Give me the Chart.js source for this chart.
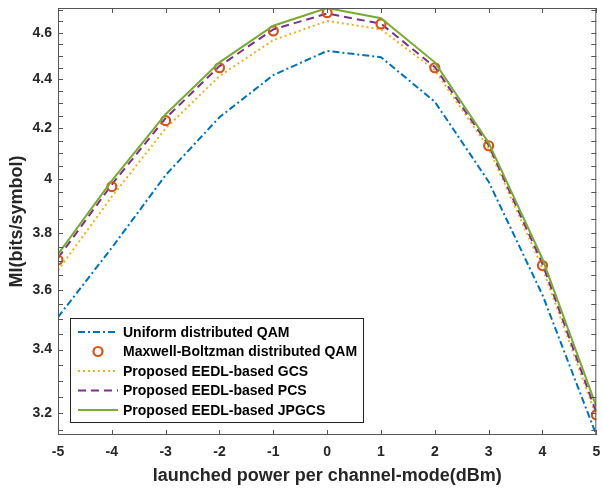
<!DOCTYPE html>
<html>
<head>
<meta charset="utf-8">
<script src="https://cdn.jsdelivr.net/npm/chart.js@4.4.0/dist/chart.umd.min.js"></script>
<style>
  html, body { margin: 0; padding: 0; background: #fff; }
  #wrap { width: 603px; height: 488px; }
</style>
</head>
<body>
<div id="wrap"><canvas id="miChart" width="603" height="488"></canvas></div>
<script>
// values
let powerArr = [-5, -4, -3, -2, -1, 0, 1, 2, 3, 4, 5];
let uniformArr = [3.507, 3.747, 4.016, 4.244, 4.418, 4.521, 4.494, 4.307, 3.991, 3.582, 3.134];
let mbArr = [3.704, 3.972, 4.230, 4.449, 4.608, 4.689, 4.639, 4.449, 4.130, 3.684, 3.195];
let gcsArr = [3.667, 3.934, 4.199, 4.414, 4.568, 4.652, 4.615, 4.439, 4.120, 3.675, 3.190];
let pcsArr = [3.710, 3.980, 4.240, 4.456, 4.615, 4.685, 4.640, 4.452, 4.132, 3.690, 3.202];
let jpgcsArr = [3.724, 3.995, 4.256, 4.472, 4.631, 4.710, 4.664, 4.472, 4.142, 3.707, 3.221];

let xTickArr = [-5, -4, -3, -2, -1, 0, 1, 2, 3, 4, 5];
let yTickArr = [3.2, 3.4, 3.6, 3.8, 4.0, 4.2, 4.4, 4.6];
let yMinorStep = 0.05;

const AXIS_COLOR = '#262626';
const FONT = '"Liberation Sans", Arial, Helvetica, sans-serif';

const toPts = arr => arr.map((v, i) => ({ x: powerArr[i], y: v }));

const lineData = {
  datasets: [{
    label: 'Uniform distributed QAM',
    data: toPts(uniformArr),
    borderColor: '#0072BD',
    borderWidth: 2,
    borderDash: [7, 3, 2, 3],
    pointRadius: 0,
    order: 4
  },
  {
    label: 'Maxwell-Boltzman distributed QAM',
    data: toPts(mbArr),
    borderColor: '#D95319',
    showLine: false,
    pointStyle: 'circle',
    pointRadius: 4.5,
    pointBorderWidth: 2.2,
    pointBackgroundColor: 'rgba(0,0,0,0)',
    pointBorderColor: '#D95319',
    order: 1
  },
  {
    label: 'Proposed EEDL-based GCS',
    data: toPts(gcsArr),
    borderColor: '#EDB120',
    borderWidth: 2,
    borderDash: [2, 3],
    pointRadius: 0,
    order: 3
  },
  {
    label: 'Proposed EEDL-based PCS',
    data: toPts(pcsArr),
    borderColor: '#7E2F8E',
    borderWidth: 2,
    borderDash: [8, 5],
    pointRadius: 0,
    order: 2
  },
  {
    label: 'Proposed EEDL-based JPGCS',
    data: toPts(jpgcsArr),
    borderColor: '#77AC30',
    borderWidth: 2,
    pointRadius: 0,
    order: 0
  }]
};

// matlab style box: inward ticks on all four sides + legend inside the axes
const matlabBox = {
  id: 'matlabBox',
  afterDraw(chart) {
    const ctx = chart.ctx;
    const a = chart.chartArea;
    const xs = chart.scales.x, ys = chart.scales.y;
    const len = 5;
    ctx.save();
    ctx.strokeStyle = '#555';
    ctx.lineWidth = 1;
    ctx.strokeRect(a.left + 0.5, a.top + 0.5, a.right - a.left - 1, a.bottom - a.top - 1);
    ctx.beginPath();
    xTickArr.forEach(v => {
      const px = Math.round(xs.getPixelForValue(v)) + 0.5;
      ctx.moveTo(px, a.bottom); ctx.lineTo(px, a.bottom - len);
      ctx.moveTo(px, a.top); ctx.lineTo(px, a.top + len);
    });
    for (let v = 3.15; v <= 4.7001; v += yMinorStep) {
      const py = Math.round(ys.getPixelForValue(v)) + 0.5;
      if (py < a.top || py > a.bottom) continue;
      ctx.moveTo(a.left, py); ctx.lineTo(a.left + len, py);
      ctx.moveTo(a.right, py); ctx.lineTo(a.right - len, py);
    }
    ctx.stroke();

    // legend
    const rowH = 19.5;
    const sets = chart.data.datasets;
    ctx.font = 'bold 14px ' + FONT;
    let tw = 0;
    sets.forEach(d => { tw = Math.max(tw, ctx.measureText(d.label).width); });
    const lx = a.left + 12;
    const lw = 53 + tw + 6;
    const lh = 104;
    const ly = a.bottom - 13 - lh;
    ctx.fillStyle = '#fff';
    ctx.fillRect(lx, ly, lw, lh);
    ctx.strokeStyle = '#262626';
    ctx.strokeRect(Math.round(lx) + 0.5, Math.round(ly) + 0.5, Math.round(lw), lh);
    sets.forEach((d, i) => {
      const cy = ly + 14 + i * rowH;
      ctx.save();
      if (d.showLine === false) {
        ctx.beginPath();
        ctx.strokeStyle = d.pointBorderColor;
        ctx.lineWidth = d.pointBorderWidth;
        ctx.arc(lx + 28, cy, d.pointRadius, 0, Math.PI * 2);
        ctx.stroke();
      } else {
        ctx.beginPath();
        ctx.strokeStyle = d.borderColor;
        ctx.lineWidth = d.borderWidth;
        ctx.setLineDash(d.borderDash || []);
        ctx.moveTo(lx + 8, cy); ctx.lineTo(lx + 48, cy);
        ctx.stroke();
      }
      ctx.restore();
      ctx.fillStyle = '#000';
      ctx.textBaseline = 'middle';
      ctx.textAlign = 'left';
      ctx.fillText(d.label, lx + 53, cy + 1);
    });
    ctx.restore();
  }
};

const configLineChart = {
  type: 'line',
  data: lineData,
  options: {
    responsive: false,
    animation: false,
    devicePixelRatio: 1,
    layout: { padding: { left: 0, top: 8, right: 4, bottom: 0 } },
    plugins: {
      legend: { display: false },
      tooltip: { enabled: false }
    },
    scales: {
      x: {
        type: 'linear',
        min: -5,
        max: 5,
        afterBuildTicks: s => { s.ticks = xTickArr.map(v => ({ value: v })); },
        afterFit: s => { s.height = 53; s.paddingLeft = 0; s.paddingRight = 0; },
        grid: { display: false, drawTicks: false },
        border: { display: false },
        ticks: {
          color: AXIS_COLOR,
          padding: 9,
          maxRotation: 0,
          font: { family: FONT, size: 14, weight: 'bold' }
        },
        title: {
          display: true,
          text: 'launched power per channel-mode(dBm)',
          color: AXIS_COLOR,
          padding: { top: 0, bottom: 1 },
          font: { family: FONT, size: 18, weight: 'bold' }
        }
      },
      y: {
        type: 'logarithmic',
        min: 3.134,
        max: 4.71,
        afterBuildTicks: s => { s.ticks = yTickArr.map(v => ({ value: v })); },
        afterFit: s => { s.width = 58; s.paddingTop = 0; s.paddingBottom = 0; },
        grid: { display: false, drawTicks: false },
        border: { display: false },
        ticks: {
          color: AXIS_COLOR,
          padding: 6,
          font: { family: FONT, size: 14, weight: 'bold' },
          callback: v => String(+Number(v).toFixed(1))
        },
        title: {
          display: true,
          text: 'MI(bits/symbol)',
          color: AXIS_COLOR,
          padding: { top: 6, bottom: 6 },
          font: { family: FONT, size: 18, weight: 'bold' }
        }
      }
    }
  },
  plugins: [matlabBox]
};

let lineChart = new Chart(
  document.getElementById('miChart'),
  configLineChart
);
</script>
</body>
</html>
